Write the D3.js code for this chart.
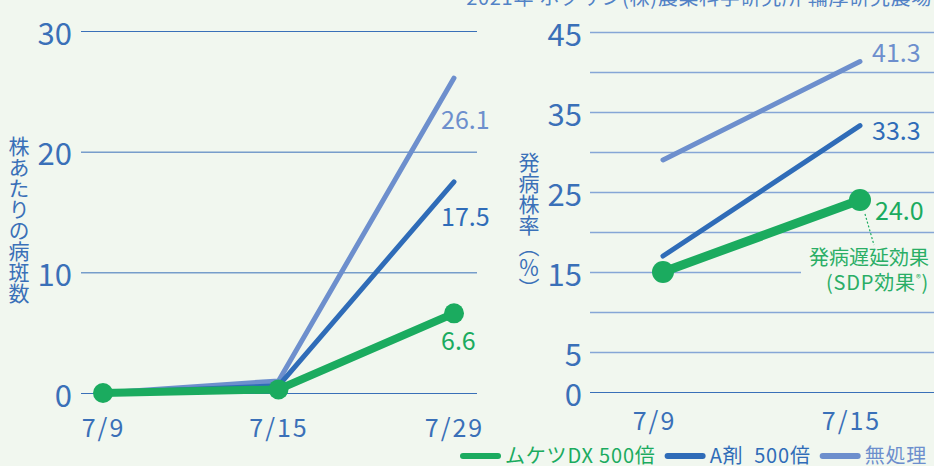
<!DOCTYPE html>
<html><head><meta charset="utf-8">
<script src="https://cdn.jsdelivr.net/npm/d3@7"></script>
<style>
body{margin:0;background:#f1f7ef}
svg{display:block}
text{font-family:"Noto Sans CJK JP","Noto Sans",sans-serif}
</style>
</head><body><svg id="c" width="934" height="466"></svg>
<script>
// ---- data ----
const leftDates = ["7/9", "7/15", "7/29"];
const leftMuketsu = [0, 0.3, 6.6];
const leftA = [0, 0.6, 17.5];
const leftNone = [0, 1.0, 26.1];
const leftTicks = [0, 10, 20, 30];

const rightDates = ["7/9", "7/15"];
const rightMuketsu = [15.0, 24.0];
const rightA = [17.0, 33.3];
const rightNone = [29.0, 41.3];
const rightTickLabels = [0, 5, 15, 25, 35, 45];
const rightGrid = [0, 5, 10, 15, 20, 25, 30, 35, 40, 45];

const seriesNames = ["ムケツDX 500倍", "A剤\u2002500倍", "無処理"];
const leftYTitle = "株あたりの病斑数";
const rightYTitle = "発病株率（％）";
const sourceNote = "2021年 ホクサン(株)農業科学研究所 輪厚研究農場";
const annotationLines = ["発病遅延効果", "(SDP効果", "®", ")"];

// ---- styles ----
const BG = "#f1f7ef";
const GREEN = "#1bab5f";
const BLUE = "#2f6cb8";
const LIGHT = "#6d8fcd";
const AXIS = "#3a70b8";
const colors = [GREEN, BLUE, LIGHT];

const svg = d3.select("#c");
svg.append("rect").attr("width", 934).attr("height", 466).attr("fill", BG);

// source note (cut at top)
svg.append("text").attr("x", 932).attr("y", 5).attr("text-anchor", "end")
  .attr("font-size", 20).attr("letter-spacing", 0.7).attr("fill", "#5282c6").text(sourceNote);

// ================= LEFT CHART =================
const lx = d3.scalePoint().domain(leftDates).range([103, 454]);
const ly = d3.scaleLinear().domain([0, 30]).range([393, 31]);
const lLeft = 81, lRight = 477;

const lyAxis = svg.append("g").attr("transform", `translate(${lLeft},0)`)
  .call(d3.axisLeft(ly).tickValues(leftTicks).tickSize(-(lRight - lLeft)).tickPadding(9));
lyAxis.select(".domain").remove();
lyAxis.selectAll(".tick line").attr("stroke", AXIS).attr("stroke-width", 1);
lyAxis.selectAll(".tick text").attr("fill", AXIS).attr("font-size", 31)
  .attr("font-family", '"Noto Sans CJK JP",sans-serif').attr("dy", "0.42em");

const lxAxis = svg.append("g").attr("transform", "translate(0,437)")
  .call(d3.axisBottom(lx).tickSize(0).tickPadding(0));
lxAxis.select(".domain").remove();
lxAxis.selectAll(".tick text").attr("fill", AXIS).attr("font-size", 25)
  .attr("letter-spacing", 2).attr("font-family", '"Noto Sans CJK JP",sans-serif')
  .attr("dy", 0).attr("y", 0);

// y title
svg.append("text").attr("x", 19).attr("y", 220)
  .style("writing-mode", "vertical-rl").attr("text-anchor", "middle")
  .attr("font-size", 21).attr("fill", AXIS).text(leftYTitle);

const lLine = d3.line().x((d, i) => lx(leftDates[i])).y(d => ly(d));
const leftSeries = [leftNone, leftA, leftMuketsu];
const leftColors = [LIGHT, BLUE, GREEN];
const leftWidths = [5, 5, 8];
leftSeries.forEach((s, k) => {
  svg.append("path").datum(s).attr("d", lLine).attr("fill", "none")
    .attr("stroke", leftColors[k]).attr("stroke-width", leftWidths[k])
    .attr("stroke-linecap", "round").attr("stroke-linejoin", "round");
});
svg.selectAll(".ldot").data(leftMuketsu).enter().append("circle")
  .attr("cx", (d, i) => lx(leftDates[i])).attr("cy", d => ly(d)).attr("r", 10).attr("fill", GREEN);

// left value labels
const lLabelDy = [42, 35, 28];
[leftNone, leftA, leftMuketsu].forEach((s, k) => {
  const v = s[s.length - 1];
  svg.append("text").attr("x", lx(leftDates[2]) - 13).attr("y", ly(v) + lLabelDy[k] + 9)
    .attr("font-size", 25).attr("fill", leftColors[k]).text(v.toFixed(1));
});

// ================= RIGHT CHART =================
const rx = d3.scalePoint().domain(rightDates).range([663, 860]);
const ry = d3.scaleLinear().domain([0, 45]).range([392, 32]);
const rLeft = 590, rRight = 934;

const ryAxis = svg.append("g").attr("transform", `translate(${rLeft},0)`)
  .call(d3.axisLeft(ry).tickValues(rightGrid).tickSize(-(rRight - rLeft)).tickPadding(8)
    .tickFormat(d => rightTickLabels.includes(d) ? d : ""));
ryAxis.select(".domain").remove();
ryAxis.selectAll(".tick line").attr("stroke", d => d === 0 ? AXIS : "#86a6d6")
  .attr("stroke-width", d => d === 0 ? 1 : 1.5);
ryAxis.selectAll(".tick text").attr("fill", AXIS).attr("font-size", 31)
  .attr("font-family", '"Noto Sans CJK JP",sans-serif').attr("dy", "0.42em");

const rxAxis = svg.append("g").attr("transform", "translate(-9,430)")
  .call(d3.axisBottom(rx).tickSize(0).tickPadding(0));
rxAxis.select(".domain").remove();
rxAxis.selectAll(".tick text").attr("fill", AXIS).attr("font-size", 25)
  .attr("letter-spacing", 2).attr("font-family", '"Noto Sans CJK JP",sans-serif')
  .attr("dy", 0).attr("y", 0);

svg.append("text").attr("x", 529).attr("y", 225)
  .style("writing-mode", "vertical-rl").attr("text-anchor", "middle")
  .attr("font-size", 21).attr("fill", AXIS).text(rightYTitle);

// annotation background mask
svg.append("rect").attr("x", 801).attr("y", 247).attr("width", 133).attr("height", 50).attr("fill", BG);

const rLine = d3.line().x((d, i) => rx(rightDates[i])).y(d => ry(d));
const rightSeries = [rightNone, rightA, rightMuketsu];
const rightWidths = [5, 5, 9];
rightSeries.forEach((s, k) => {
  svg.append("path").datum(s).attr("d", rLine).attr("fill", "none")
    .attr("stroke", leftColors[k]).attr("stroke-width", rightWidths[k])
    .attr("stroke-linecap", "round").attr("stroke-linejoin", "round");
});
svg.selectAll(".rdot").data(rightMuketsu).enter().append("circle")
  .attr("cx", (d, i) => rx(rightDates[i])).attr("cy", d => ry(d)).attr("r", 11).attr("fill", GREEN);

const rLabelDy = [-9, 5, 11];
rightSeries.forEach((s, k) => {
  const v = s[s.length - 1];
  svg.append("text").attr("x", rx(rightDates[1]) + (k === 2 ? 15 : 12)).attr("y", ry(v) + rLabelDy[k] + 9)
    .attr("font-size", 25).attr("fill", leftColors[k]).text(v.toFixed(1));
});

// annotation leader + text
const gx = rx(rightDates[1]), gy = ry(rightMuketsu[1]);
svg.append("line").attr("x1", gx + 5).attr("y1", gy + 14).attr("x2", gx + 14).attr("y2", gy + 45)
  .attr("stroke", GREEN).attr("stroke-width", 1.2).attr("stroke-dasharray", "2,2");
svg.append("text").attr("x", 929).attr("y", 265).attr("text-anchor", "end")
  .attr("font-size", 20).attr("fill", "#2aae66").text(annotationLines[0]);
const t2 = svg.append("text").attr("x", 929).attr("y", 290).attr("text-anchor", "end")
  .attr("font-size", 20).attr("letter-spacing", 0.8).attr("fill", "#2aae66");
t2.append("tspan").text(annotationLines[1]);
t2.append("tspan").attr("font-size", 10).attr("dy", -8).text(annotationLines[2]);
t2.append("tspan").attr("dy", 8).text(annotationLines[3]);

// ================= LEGEND =================
const leg = svg.append("g");
let cx = 463;
seriesNames.forEach((name, k) => {
  leg.append("line").attr("x1", cx).attr("x2", cx + 35).attr("y1", 456).attr("y2", 456)
    .attr("stroke", colors[k]).attr("stroke-width", 6).attr("stroke-linecap", "round");
  const t = leg.append("text").attr("x", cx + 42).attr("y", 463).attr("font-size", 20)
    .attr("fill", colors[k]).attr("letter-spacing", 0.8).text(name);
  cx += 42 + t.node().getComputedTextLength() + 12;
});
</script>
</body></html>
